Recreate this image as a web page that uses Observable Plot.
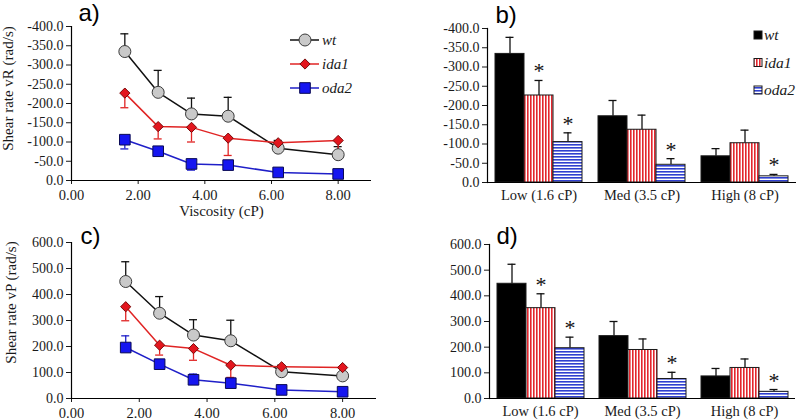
<!DOCTYPE html>
<html><head><meta charset="utf-8">
<script src="https://cdn.jsdelivr.net/npm/d3@7"></script>
<script src="https://cdn.jsdelivr.net/npm/@observablehq/plot@0.6"></script>
<style>
body{margin:0;background:#fff;}
#wrap{position:relative;width:800px;height:420px;overflow:hidden;background:#fff;}
.panel{position:absolute;width:400px;height:210px;}
.panel svg{overflow:visible;}
#legend{position:absolute;left:0;top:0;pointer-events:none;}
</style></head>
<body>
<svg width="0" height="0" style="position:absolute">
  <defs>
    <pattern id="vstripe" patternUnits="userSpaceOnUse" width="3" height="3">
      <rect width="3" height="3" fill="#ffffff"/><rect width="1.6" height="3" fill="#e3262d"/>
    </pattern>
    <pattern id="hstripe" patternUnits="userSpaceOnUse" width="3" height="3">
      <rect width="3" height="3" fill="#ffffff"/><rect width="3" height="1.6" fill="#2f3fd0"/>
    </pattern>
  </defs>
</svg>
<div id="wrap">
  <div class="panel" id="pa" style="left:0;top:0"></div>
  <div class="panel" id="pb" style="left:400px;top:0"></div>
  <div class="panel" id="pc" style="left:0;top:210px"></div>
  <div class="panel" id="pd" style="left:400px;top:210px"></div>
</div>
<script>
// ---------- data ----------
const viscosity = [1.6, 2.6, 3.6, 4.7, 6.2, 8.0];
const genotypes = ["wt", "ida1", "oda2"];
const levels = ["Low (1.6 cP)", "Med (3.5 cP)", "High (8 cP)"];
const xTicks = [0, 2, 4, 6, 8];
const yTicksR = [-400, -350, -300, -250, -200, -150, -100, -50, 0];
const yTicksP = [0, 100, 200, 300, 400, 500, 600];

// a) shear rate vR vs viscosity
const vR_wt = [-335, -229, -173, -167, -84, -67];
const vR_wt_sd = [46, 57, 41, 49, 20, 21];
const vR_ida1 = [-227, -140, -138, -110, -98, -104];
const vR_ida1_sd = [38, 32, 38, 45, 10, 34];
const vR_oda2 = [-106, -76, -43, -40, -21, -17];
const vR_oda2_sd = [24, 10, 16, 10, 5, 4];

// c) shear rate vP vs viscosity
const vP_wt = [450, 328, 244, 222, 103, 87];
const vP_wt_sd = [76, 64, 59, 79, 25, 31];
const vP_ida1 = [353, 205, 192, 128, 122, 119];
const vP_ida1_sd = [54, 38, 45, 47, 10, 35];
const vP_oda2 = [196, 132, 72, 59, 33, 26];
const vP_oda2_sd = [45, 15, 22, 10, 5, 9];

// b) bars vR by viscosity level
const barR_wt = [-334, -172, -68];
const barR_wt_sd = [43, 41, 20];
const barR_ida1 = [-226, -137, -102];
const barR_ida1_sd = [39, 38, 34];
const barR_oda2 = [-105, -46, -16];
const barR_oda2_sd = [24, 16, 5];

// d) bars vP by viscosity level
const barP_wt = [447, 243, 86];
const barP_wt_sd = [76, 57, 31];
const barP_ida1 = [352, 189, 119];
const barP_ida1_sd = [56, 43, 35];
const barP_oda2 = [196, 76, 26];
const barP_oda2_sd = [43, 26, 9];

// significance (asterisks)
const sig_wt = [false, false, false];
const sig_ida1 = [true, false, false];
const sig_oda2 = [true, true, true];

// ---------- styles ----------
const SERIF = "'Liberation Serif', 'Times New Roman', serif";
const SANS = "'Liberation Sans', Arial, sans-serif";
const sty = {
  wt:   {line: "#111111", fill: "#c9c9c9", mstroke: "#3a3a3a", symbol: "circle",   r: 6,   err: "#111111", bar: "#000000"},
  ida1: {line: "#e02424", fill: "#e3161e", mstroke: "#7a0a0a", symbol: "diamond2", r: 4.6, err: "#e02424", bar: "url(#vstripe)"},
  oda2: {line: "#1f1fc8", fill: "#1515f0", mstroke: "#0a0a55", symbol: "square",   r: 6,   err: "#1f1fc8", bar: "url(#hstripe)"}
};
const fmt1 = d => d.toFixed(1);
const fmt2 = d => d.toFixed(2);

function tagMark(label, dx, dy) {
  return Plot.text([label], {text: d => d, frameAnchor: "top-left", textAnchor: "start", lineAnchor: "bottom",
    dx, dy, fontSize: 24, fontFamily: SANS, fill: "#000", facet: "super"});
}

function linePanel({values, sds, dirs, yDomain, yTicks, m, yLabel, yLabelDx, yLabelDy, xLabel, tag, tagDx, tagDy, xPad}) {
  const rows = genotypes.flatMap((g, gi) => viscosity.map((v, i) => ({
    g, x: v, y: values[gi][i], e: values[gi][i] + dirs[gi] * sds[gi][i]
  })));
  const marks = [
    Plot.axisX({ticks: xTicks, tickFormat: fmt2, tickSize: 4, tickPadding: xPad, label: null, fontSize: 14.5}),
    Plot.axisY({ticks: yTicks, tickFormat: fmt1, tickSize: 5, tickPadding: 3, label: null, fontSize: 14}),
    Plot.ruleY([0], {stroke: "#000", strokeWidth: 1.2}),
    Plot.ruleX([0], {stroke: "#000", strokeWidth: 1.2}),
    Plot.text([yLabel], {text: d => d, frameAnchor: "left", textAnchor: "middle", lineAnchor: "middle", rotate: -90,
      dx: yLabelDx, dy: yLabelDy, fontSize: 15, fontFamily: SERIF, fill: "#1a1a1a"}),
    tagMark(tag, tagDx, tagDy)
  ];
  if (xLabel) marks.push(Plot.text([xLabel], {text: d => d, frameAnchor: "bottom", dy: 35, lineAnchor: "bottom",
    fontSize: 15, fontFamily: SERIF, fill: "#1a1a1a"}));
  for (const g of genotypes) {
    const d = rows.filter(r => r.g === g);
    marks.push(Plot.line(d, {x: "x", y: "y", stroke: sty[g].line, strokeWidth: 1.5}));
  }
  for (const g of genotypes) {
    const d = rows.filter(r => r.g === g);
    marks.push(Plot.ruleX(d, {x: "x", y1: "y", y2: "e", stroke: sty[g].err, strokeWidth: 1.3}));
    marks.push(Plot.ruleY(d, {y: "e", x1: "x", x2: "x", insetLeft: -4, insetRight: -4, stroke: sty[g].err, strokeWidth: 1.3}));
  }
  for (const g of genotypes) {
    const d = rows.filter(r => r.g === g);
    marks.push(Plot.dot(d, {x: "x", y: "y", symbol: sty[g].symbol, r: sty[g].r, fill: sty[g].fill,
      stroke: sty[g].mstroke, strokeWidth: 1, fillOpacity: 1}));
  }
  return Plot.plot({
    width: 400, height: 210,
    marginLeft: m[0], marginRight: m[1], marginTop: m[2], marginBottom: m[3],
    style: {fontFamily: SERIF, fontSize: "14px", color: "#1a1a1a", background: "transparent", overflow: "visible"},
    x: {domain: [0, 9]},
    y: {domain: yDomain},
    marks
  });
}

function barPanel({vals, sds, sigs, yDomain, yTicks, m, tag, tagDx, tagDy}) {
  const rows = levels.flatMap((c, ci) => genotypes.map((g, gi) => {
    const v = vals[gi][ci];
    return {c, g, v, top: v + Math.sign(v) * sds[gi][ci], sig: sigs[gi][ci]};
  }));
  const marks = [
    Plot.axisFx({anchor: "bottom", tickSize: 0, tickPadding: 7, label: null, fontSize: 14.5}),
    Plot.axisY({ticks: yTicks, tickFormat: fmt1, tickSize: 5, tickPadding: 3, label: null, fontSize: 14}),
    tagMark(tag, tagDx, tagDy)
  ];
  for (const g of genotypes) {
    const d = rows.filter(r => r.g === g);
    marks.push(Plot.ruleX(d, {fx: "c", x: "g", y1: "v", y2: "top", stroke: "#111", strokeWidth: 1.3}));
    marks.push(Plot.tickY(d, {fx: "c", x: "g", y: "top", stroke: "#111", strokeWidth: 1.3, insetLeft: 10.5, insetRight: 10.5}));
  }
  for (const g of genotypes) {
    const d = rows.filter(r => r.g === g);
    marks.push(Plot.barY(d, {fx: "c", x: "g", y: "v", fill: sty[g].bar, stroke: "#1a1a1a", strokeWidth: 1}));
  }
  marks.push(Plot.text(rows.filter(r => r.sig), {fx: "c", x: "g", y: "top", text: () => "*",
    lineAnchor: "bottom", dy: -2, fontSize: 22, fontFamily: SERIF, fill: "#111"}));
  marks.push(Plot.ruleY([0], {stroke: "#000", strokeWidth: 1.2}));
  marks.push(Plot.frame({anchor: "left", facet: "super", stroke: "#000", strokeWidth: 1.2}));
  return Plot.plot({
    width: 400, height: 210,
    marginLeft: m[0], marginRight: m[1], marginTop: m[2], marginBottom: m[3],
    style: {fontFamily: SERIF, fontSize: "14px", color: "#1a1a1a", background: "transparent", overflow: "visible"},
    fx: {domain: levels, padding: 0, label: null},
    x: {domain: genotypes, paddingInner: 0, paddingOuter: 0.25, axis: null},
    y: {domain: yDomain},
    marks
  });
}

document.getElementById("pa").append(linePanel({
  values: [vR_wt, vR_ida1, vR_oda2], sds: [vR_wt_sd, vR_ida1_sd, vR_oda2_sd], dirs: [-1, 1, 1],
  yDomain: [0, -400], yTicks: yTicksR, m: [71, 29, 26, 30],
  yLabel: "Shear rate vR (rad/s)", yLabelDx: -63, yLabelDy: -15,
  xLabel: "Viscosity (cP)", tag: "a)", tagDx: 7, tagDy: -6, xPad: 5
}));
document.getElementById("pc").append(linePanel({
  values: [vP_wt, vP_ida1, vP_oda2], sds: [vP_wt_sd, vP_ida1_sd, vP_oda2_sd], dirs: [1, -1, 1],
  yDomain: [0, 600], yTicks: yTicksP, m: [71, 24, 32, 22],
  yLabel: "Shear rate vP (rad/s)", yLabelDx: -60, yLabelDy: -18,
  xLabel: null, tag: "c)", tagDx: 9, tagDy: 1, xPad: 5
}));
document.getElementById("pb").append(barPanel({
  vals: [barR_wt, barR_ida1, barR_oda2], sds: [barR_wt_sd, barR_ida1_sd, barR_oda2_sd],
  sigs: [sig_wt, sig_ida1, sig_oda2], yDomain: [0, -400], yTicks: yTicksR, m: [86, 3, 28, 28],
  tag: "b)", tagDx: 8, tagDy: -6
}));
document.getElementById("pd").append(barPanel({
  vals: [barP_wt, barP_ida1, barP_oda2], sds: [barP_wt_sd, barP_ida1_sd, barP_oda2_sd],
  sigs: [sig_wt, sig_ida1, sig_oda2], yDomain: [0, 600], yTicks: yTicksP, m: [88, 5, 34, 22],
  tag: "d)", tagDx: 7, tagDy: -1
}));

// ---------- legends ----------
const NS = "http://www.w3.org/2000/svg";
const leg = document.createElementNS(NS, "svg");
leg.setAttribute("id", "legend");
leg.setAttribute("width", 800); leg.setAttribute("height", 420);
function el(tag, attrs, parent) {
  const e = document.createElementNS(NS, tag);
  for (const k in attrs) e.setAttribute(k, attrs[k]);
  (parent || leg).appendChild(e);
  return e;
}
const symPath = {
  circle: r => d3.symbol(d3.symbolCircle, Math.PI * r * r)(),
  diamond2: r => d3.symbol(d3.symbolDiamond2, Math.PI * r * r)(),
  square: r => d3.symbol(d3.symbolSquare, Math.PI * r * r)()
};
// legend for line panels (a)
genotypes.forEach((g, i) => {
  const y = 40 + i * 24;
  el("line", {x1: 290, x2: 319, y1: y, y2: y, stroke: sty[g].line, "stroke-width": 1.5});
  el("path", {d: symPath[sty[g].symbol](sty[g].r), transform: `translate(305,${y})`,
    fill: sty[g].fill, stroke: sty[g].mstroke, "stroke-width": 1});
  const t = el("text", {x: 322, y: y + 5, "font-family": SERIF, "font-style": "italic", "font-size": 15, fill: "#1a1a1a"});
  t.textContent = g;
});
// legend for bar panels (b)
genotypes.forEach((g, i) => {
  const y = 35 + i * 27.5;
  el("rect", {x: 754, y: y - 4, width: 8, height: 8, fill: sty[g].bar, stroke: "#1a1a1a", "stroke-width": 1});
  const t = el("text", {x: 764, y: y + 5, "font-family": SERIF, "font-style": "italic", "font-size": 15.5, fill: "#1a1a1a"});
  t.textContent = g;
});
document.getElementById("wrap").appendChild(leg);
</script>
</body></html>
